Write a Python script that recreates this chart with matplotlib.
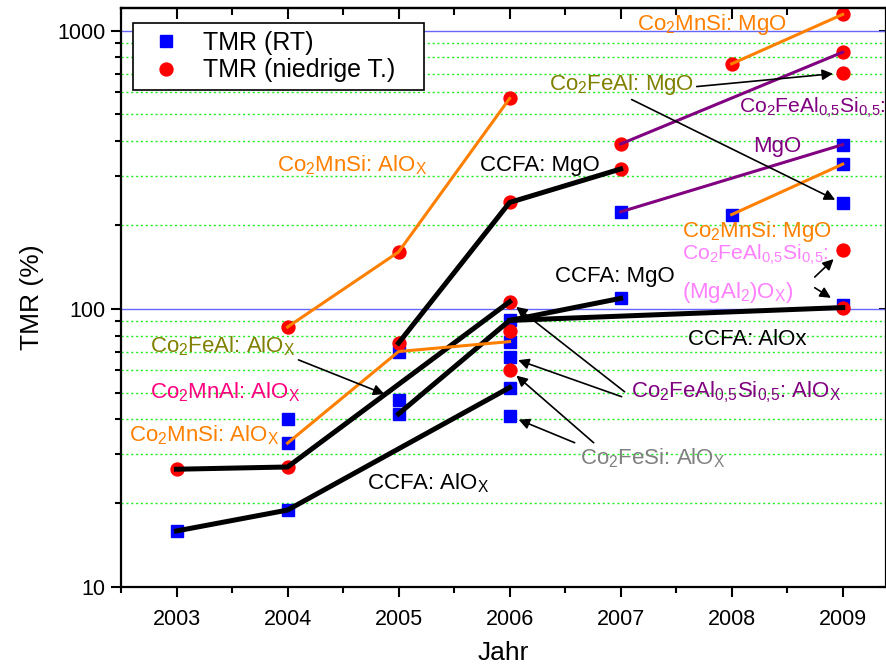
import matplotlib
matplotlib.use("Agg")
import matplotlib.pyplot as plt
from matplotlib.lines import Line2D
from matplotlib.ticker import FixedLocator, MultipleLocator, LogLocator, NullFormatter, FuncFormatter

plt.rcParams['font.family'] = ['Liberation Sans', 'DejaVu Sans']
plt.rcParams['mathtext.fontset'] = 'custom'
plt.rcParams['mathtext.rm'] = 'Liberation Sans'
plt.rcParams['mathtext.it'] = 'Liberation Sans:italic'
plt.rcParams['mathtext.bf'] = 'Liberation Sans:bold'

# TMR at room temperature (blue squares)
rt_years = [2003, 2004, 2004, 2004, 2005, 2005, 2005, 2006, 2006, 2006, 2006, 2006,
            2007, 2007, 2008, 2009, 2009, 2009, 2009]
rt_tmr = [15.9, 18.9, 32.9, 40.1, 41.9, 47.1, 70.2, 41.2, 52.1, 67.0, 76.2, 90.8,
          109, 223, 218, 103, 239, 331, 389]

# TMR at low temperature (red circles)
lt_years = [2003, 2004, 2004, 2005, 2005, 2006, 2006, 2006, 2006, 2006,
            2007, 2007, 2008, 2009, 2009, 2009, 2009, 2009]
lt_tmr = [26.5, 27.0, 86.0, 75.3, 160, 60.4, 83.4, 106, 241, 570,
          318, 391, 759, 101, 162, 705, 836, 1143]

# connecting lines
ccfa_alox_lt = ([2003, 2004, 2006], [26.5, 27.0, 106])
ccfa_alox_rt = ([2003, 2004, 2006], [15.9, 18.9, 52.1])
ccfa_mgo_lt = ([2005, 2006, 2007], [75.3, 241, 318])
ccfa_mgo_rt = ([2005, 2006, 2007], [41.9, 90.8, 109])
ccfa_alox_late = ([2006, 2009], [90.8, 101])
cms_alox_lt = ([2004, 2005, 2006], [86.0, 160, 570])
cms_alox_rt = ([2004, 2005, 2006], [32.9, 70.2, 76.2])
cms_mgo_lt = ([2008, 2009], [759, 1143])
cms_mgo_rt = ([2008, 2009], [218, 331])
cfas_mgo_lt = ([2007, 2009], [391, 836])
cfas_mgo_rt = ([2007, 2009], [223, 389])

years = [2003, 2004, 2005, 2006, 2007, 2008, 2009]

ORANGE = '#FF8000'
OLIVE = '#808000'
PURPLE = '#800080'
PINK = '#FF80FF'
MAGENTA = '#FF0080'
GRAY = '#808080'

fig = plt.figure(figsize=(8.87, 6.70), dpi=100)
ax = fig.add_axes([121 / 887, 83 / 670, 765 / 887, 579 / 670])
ax.set_yscale('log')
ax.set_xlim(2002.5, 2009.39)
ax.set_ylim(10, 1205)

# grid
for v in [100, 1000]:
    ax.axhline(v, color='#6666FF', lw=1.0, zorder=1)
for d in [10, 100]:
    for m in range(2, 10):
        if d * m < 1205:
            ax.axhline(d * m, color='#22EE22', lw=1.0, ls=(0, (1.5, 2)), zorder=1)

ax.plot(rt_years, rt_tmr, 's', color='#0000FF', ms=8, zorder=2, ls='none')
ax.plot(lt_years, lt_tmr, 'o', color='#FF0000', ms=9.3, zorder=2, ls='none')

for xs, ys in [ccfa_alox_lt, ccfa_alox_rt, ccfa_mgo_lt, ccfa_mgo_rt, ccfa_alox_late]:
    ax.plot(xs, ys, color='black', lw=3.6, zorder=3)
for xs, ys in [cms_alox_lt, cms_alox_rt, cms_mgo_lt, cms_mgo_rt]:
    ax.plot(xs, ys, color=ORANGE, lw=2.2, zorder=3)
for xs, ys in [cfas_mgo_lt, cfas_mgo_rt]:
    ax.plot(xs, ys, color=PURPLE, lw=2.2, zorder=3)

fs = 16
labels = [
    ('Co$_2$MnSi: MgO', 2007.144, 1051, ORANGE, fs),
    ('Co$_2$FeAl: MgO', 2006.351, 639, OLIVE, fs),
    ('Co$_2$FeAl$_{0{,}5}$Si$_{0{,}5}$:', 2008.07, 528, PURPLE, 15.2),
    ('MgO', 2008.189, 383, PURPLE, fs),
    ('Co$_2$MnSi: AlO$_\\mathrm{X}$', 2003.901, 327, ORANGE, fs),
    ('CCFA: MgO', 2005.730, 327, 'black', fs),
    ('Co$_2$MnSi: MgO', 2007.550, 189, ORANGE, fs),
    ('Co$_2$FeAl$_{0{,}5}$Si$_{0{,}5}$:', 2007.550, 156, PINK, 15.2),
    ('(MgAl$_2$)O$_\\mathrm{X}$)', 2007.550, 114, PINK, fs),
    ('CCFA: MgO', 2006.405, 131, 'black', fs),
    ('CCFA: AlOx', 2007.604, 77.4, 'black', fs),
    ('Co$_2$FeAl: AlO$_\\mathrm{X}$', 2002.757, 73.6, OLIVE, fs),
    ('Co$_2$MnAl: AlO$_\\mathrm{X}$', 2002.757, 50.3, MAGENTA, fs),
    ('Co$_2$MnSi: AlO$_\\mathrm{X}$', 2002.568, 35.2, ORANGE, fs),
    ('CCFA: AlO$_\\mathrm{X}$', 2004.712, 23.7, 'black', fs),
    ('Co$_2$FeAl$_{0{,}5}$Si$_{0{,}5}$: AlO$_\\mathrm{X}$', 2007.090, 50.3, PURPLE, fs),
    ('Co$_2$FeSi: AlO$_\\mathrm{X}$', 2006.631, 29.1, GRAY, fs),
]
for txt, x, y, c, size in labels:
    ax.text(x, y, txt, color=c, fontsize=size, ha='left', va='center', zorder=4)

# arrows: (tail x, tail y, target x, target y, gap in points)
arrows = [
    (2004.099, 65.5, 2005, 47.1, 11),
    (2007.036, 50.3, 2006, 106, 6),
    (2007.009, 48.3, 2006, 67.0, 6.5),
    (2006.586, 33.0, 2006, 41.2, 7),
    (2006.757, 33.0, 2006, 60.4, 6.5),
    (2007.685, 629, 2009, 705, 7),
    (2007.099, 565, 2009, 239, 6),
    (2008.748, 130, 2009, 162, 9),
    (2008.748, 119, 2009, 103, 10),
]
for x0, y0, x1, y1, gap in arrows:
    ax.annotate('', xy=(x1, y1), xytext=(x0, y0),
                arrowprops=dict(arrowstyle='-|>', color='black', lw=1.2,
                                mutation_scale=16, shrinkA=0, shrinkB=gap),
                zorder=4)

# axes styling
for s in ax.spines.values():
    s.set_linewidth(1.6)
ax.set_xticks(years)
ax.xaxis.set_minor_locator(MultipleLocator(0.5))
ax.xaxis.set_major_formatter(FuncFormatter(lambda v, p: '%d' % v))
ax.yaxis.set_major_locator(FixedLocator([10, 100, 1000]))
ax.yaxis.set_major_formatter(FuncFormatter(lambda v, p: '%d' % v))
ax.yaxis.set_minor_locator(LogLocator(base=10, subs=range(2, 10)))
ax.yaxis.set_minor_formatter(NullFormatter())
ax.tick_params(which='major', direction='out', length=7, width=1.5, labelsize=15.5)
ax.tick_params(which='minor', direction='out', length=4.5, width=1.5)
ax.tick_params(axis='x', which='major', pad=9)
ax.tick_params(axis='y', which='major', pad=4)

top = ax.secondary_xaxis('top')
top.set_xticks(years)
top.xaxis.set_minor_locator(MultipleLocator(0.5))
top.tick_params(which='major', direction='in', length=8, width=1.5, labeltop=False)
top.tick_params(which='minor', direction='in', length=5, width=1.5)
top.spines['top'].set_linewidth(1.6)

right = ax.secondary_yaxis('right')
right.yaxis.set_major_locator(FixedLocator([10, 100, 1000]))
right.yaxis.set_minor_locator(FixedLocator([]))
right.tick_params(which='major', direction='in', length=5, width=1.5, labelright=False)

ax.set_xlabel('Jahr', fontsize=19, labelpad=8)
ax.set_ylabel('TMR (%)', fontsize=19, labelpad=10)

handles = [
    Line2D([], [], marker='s', color='#0000FF', ls='none', ms=8),
    Line2D([], [], marker='o', color='#FF0000', ls='none', ms=9.3),
]
leg = ax.legend(handles, ['TMR (RT)', 'TMR (niedrige T.)   '], loc='upper left',
                bbox_to_anchor=(0.0157, 0.974), borderaxespad=0, fontsize=18,
                frameon=True, fancybox=False, framealpha=1, edgecolor='black',
                handlelength=2.0, handletextpad=0.5, borderpad=0.3, labelspacing=0.15)
leg.get_frame().set_linewidth(1.2)
leg.set_zorder(5)

fig.savefig('out.png', dpi=100)
